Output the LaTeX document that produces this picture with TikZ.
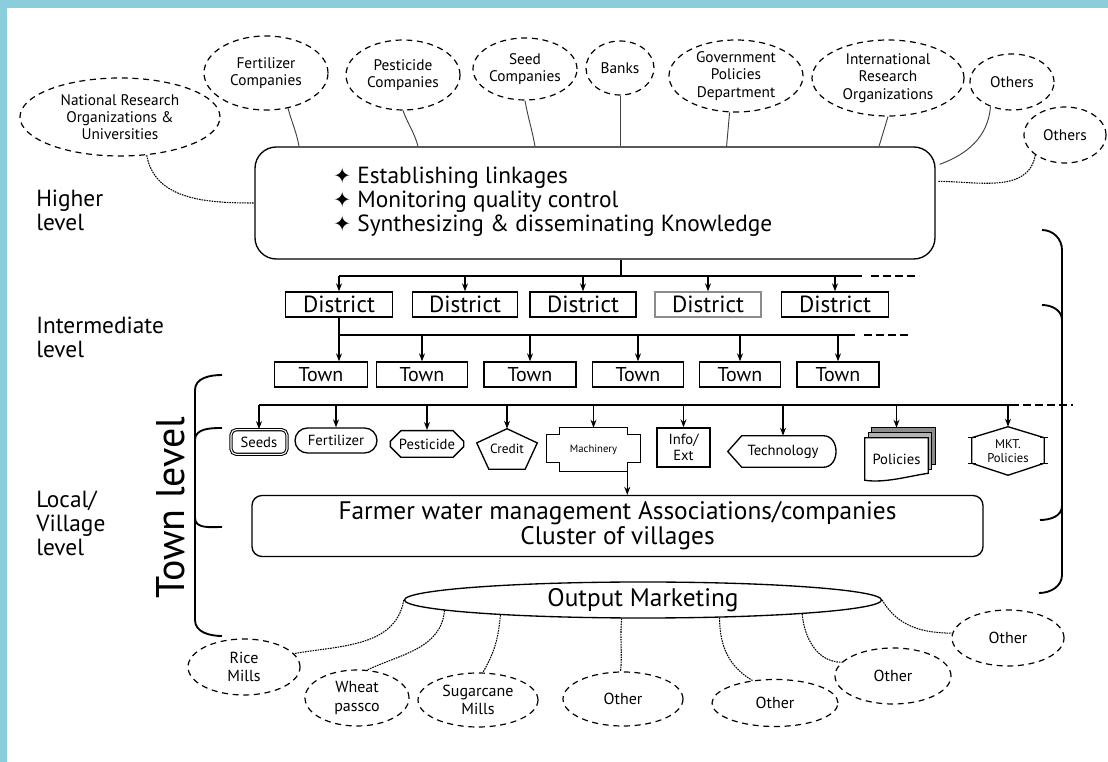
\documentclass[tikz,border=0pt]{standalone}
\usepackage{fontspec}
\setmainfont{PT Sans}
\newfontfamily\symfont{DejaVu Sans}
\usetikzlibrary{shapes.geometric,shapes.misc,arrows.meta,calc}
\definecolor{cyanbg}{RGB}{140,205,220}

\begin{document}
\begin{tikzpicture}[x=0.75pt,y=0.75pt,yscale=-1,xscale=1,
  org/.style={draw,ellipse,dash pattern=on 4.5pt off 3.5pt,line width=0.9pt,align=center,inner sep=0pt,font=\fontsize{11.5}{13}\selectfont},
  lowOrg/.style={org,font=\fontsize{12}{14}\selectfont},
  link/.style={line width=0.7pt,color=black!75},
  dlink/.style={line width=0.8pt,dash pattern=on 1.2pt off 0.7pt},
  unitBox/.style={draw,line width=1pt,minimum height=18.75pt,inner sep=0pt},
  svc/.style={inner sep=0pt,align=center,font=\fontsize{11}{12}\selectfont},
  bus/.style={line width=1pt},
  arr/.style={line width=0.9pt,-{Stealth[length=6pt,width=4.5pt]}},
  brk/.style={line width=1.4pt},
  lvl/.style={anchor=west,align=left,inner sep=0pt,font=\fontsize{17.5}{18}\selectfont}]

%Shape: Background
\fill[cyanbg] (0,0) rectangle (1108,762);
\fill[white] (7,8) rectangle (1108,762);
\useasboundingbox (0,0) rectangle (1108,762);

%Shape: Ellipse (organizations)
\node[org,minimum width=150pt,minimum height=58.5pt] (nat) at (120,117) {National Research\\Organizations \&\\Universities};
\node[org,minimum width=93pt,minimum height=55.5pt] (fert) at (266,73) {Fertilizer\\Companies};
\node[org,minimum width=85.5pt,minimum height=52.5pt] (pest) at (403,75) {Pesticide\\Companies};
\node[org,minimum width=78pt,minimum height=46.5pt] (seed) at (525,69) {Seed\\Companies};
\node[org,minimum width=51pt,minimum height=40.5pt] (banks) at (620,68) {Banks};
\node[org,minimum width=100.5pt,minimum height=54pt] (govt) at (736,76) {Government\\Policies\\Department};
\node[org,minimum width=114pt,minimum height=57pt] (intl) at (888,78) {International\\Research\\Organizations};
\node[org,minimum width=63pt,minimum height=42pt] (oth1) at (1012,82) {Others};
\node[org,minimum width=61.5pt,minimum height=42pt] (oth2) at (1065,135) {Others};

%Shape: Rounded Rect (higher level)
\node[draw,line width=1pt,rounded corners=16pt,minimum width=510pt,minimum height=84pt] (hub) at (595,203) {};
% Text Node
\node[anchor=west,align=left,inner sep=0pt,font=\fontsize{17.5}{18}\selectfont] (bul) at (333,202)
  {{\symfont\fontsize{16}{18}\selectfont ✦}\ Establishing linkages\\
   {\symfont\fontsize{16}{18}\selectfont ✦}\ Monitoring quality control\\
   {\symfont\fontsize{16}{18}\selectfont ✦}\ Synthesizing \& disseminating Knowledge};

%Curve Lines (organizations to hub)
\draw[dlink] (nat.-55) to[out=80,in=180] (hub.west);
\draw[link] (fert.-58) to[out=75,in=-100] ($(fert.-58 |- hub.north)+(11,0)$);
\draw[link] (pest.south) to[out=70,in=-105] ($(pest.south |- hub.north)+(15,0)$);
\draw[link] (seed.south) to[out=80,in=-100] ($(seed.south |- hub.north)+(10,0)$);
\draw[link] (banks.south) -- (banks.south |- hub.north);
\draw[link] (govt.-100) -- ($(govt.-100 |- hub.north)+(-3,0)$);
\draw[link] (intl.south) -- ($(intl.south |- hub.north)+(-9,0)$);
\draw[link] (oth1.-131) to[out=95,in=-20] ($(hub.north east)+(4,18)$);
\draw[dlink] (oth2.214) to[out=100,in=0] ($(hub.north east)+(2,35)$);

% Text Node (levels)
\node[lvl] (lvlHigh) at (36,210) {Higher\\level};
\node[lvl] (lvlMid) at (36,337) {Intermediate\\level};
\node[lvl] (lvlLow) at (36,523) {Local/\\Village\\level};
\node[rotate=90,inner sep=0pt,font=\fontsize{30}{30}\selectfont] (lvlTown) at (171,508) {Town level};

%Shape: Rect (districts)
\node[unitBox,minimum width=80pt,font=\fontsize{17.5}{17}\selectfont] (d1) at (339,304.5) {District};
\node[unitBox,minimum width=79pt,font=\fontsize{17.5}{17}\selectfont] (d2) at (465,304.5) {District};
\node[unitBox,minimum width=79.5pt,font=\fontsize{17.5}{17}\selectfont] (d3) at (583,304.5) {District};
\node[unitBox,draw=black!45,minimum width=79.5pt,font=\fontsize{17.5}{17}\selectfont] (d4) at (708,304.5) {District};
\node[unitBox,minimum width=80pt,font=\fontsize{17.5}{17}\selectfont] (d5) at (835,304.5) {District};

%Straight Lines (district bus)
\coordinate (dbus) at (621,276);
\coordinate (dend) at (862,276);
\draw[bus] (hub.south -| dbus) -- (dbus);
\draw[bus] (dbus -| d1.north) -- (dend);
\draw[bus,dash pattern=on 6pt off 3pt] (871,276) -- (919,276);
\draw[arr] (dbus -| d1.north) -- (d1.north);
\draw[arr] (dbus -| d2.north) -- (d2.north);
\draw[arr] (dbus -| d3.north) -- (d3.north);
\draw[arr] (dbus -| d4.north) -- (d4.north);
\draw[arr] (dbus -| d5.north) -- (d5.north);

%Shape: Rect (towns)
\node[unitBox,minimum width=69.75pt,font=\fontsize{15}{15}\selectfont] (t1) at (321,374.5) {Town};
\node[unitBox,minimum width=68.25pt,font=\fontsize{15}{15}\selectfont] (t2) at (422,374.5) {Town};
\node[unitBox,minimum width=69pt,font=\fontsize{15}{15}\selectfont] (t3) at (530,374.5) {Town};
\node[unitBox,minimum width=68.25pt,font=\fontsize{15}{15}\selectfont] (t4) at (638,374.5) {Town};
\node[unitBox,minimum width=60.75pt,font=\fontsize{15}{15}\selectfont] (t5) at (740,374.5) {Town};
\node[unitBox,minimum width=61.5pt,font=\fontsize{15}{15}\selectfont] (t6) at (838,374.5) {Town};

%Straight Lines (town bus)
\coordinate (tbus) at (334,335);
\coordinate (tend) at (855,335);
\draw[bus] (d1.south |- tbus) -- (tend);
\draw[bus,dash pattern=on 6pt off 3pt] (864,335) -- (908,335);
\draw[arr] (d1.south) -- (d1.south |- t1.north);
\draw[arr] (tbus -| t2.north) -- (t2.north);
\draw[arr] (tbus -| t3.north) -- (t3.north);
\draw[arr] (tbus -| t4.north) -- (t4.north);
\draw[arr] (tbus -| t5.north) -- (t5.north);
\draw[arr] (tbus -| t6.north) -- (t6.north);

%Shape: services at town level
\node[svc,draw,line width=0.8pt,double,double distance=0.8pt,rounded corners=4pt,minimum width=42pt,minimum height=18.5pt] (seeds) at (259,442) {Seeds};
\node[svc,draw,line width=1pt,rounded rectangle,minimum width=61.5pt,minimum height=18.75pt] (fertl) at (336,440.5) {Fertilizer};
\node[svc,draw,line width=1pt,chamfered rectangle,chamfered rectangle xsep=4pt,chamfered rectangle ysep=4pt,minimum width=55pt,minimum height=20pt] (pestc) at (427,444) {Pesticide};
\node[svc,minimum width=45pt,minimum height=30pt,font=\fontsize{10}{11}\selectfont] (credit) at (507,449) {Credit};
\draw[line width=1pt] (credit.north) -- ($(credit.north east)!0.35!(credit.south east)$) -- ($(credit.south east)!0.2!(credit.south west)$) -- ($(credit.south west)!0.2!(credit.south east)$) -- ($(credit.north west)!0.35!(credit.south west)$) -- cycle;
\node[svc,minimum width=69.75pt,minimum height=32.25pt,font=\fontsize{8}{9}\selectfont] (mach) at (593.5,449.5) {Machinery};
\draw[line width=1pt] ($(mach.north west)+(13,0)$) -- ($(mach.north east)+(-13,0)$) -- ($(mach.north east)+(-13,7)$) -- ($(mach.north east)+(0,7)$) -- ($(mach.south east)+(0,-9)$) -- ($(mach.south east)+(-13,-9)$) -- ($(mach.south east)+(-13,0)$) -- ($(mach.south west)+(13,0)$) -- ($(mach.south west)+(13,-9)$) -- ($(mach.south west)+(0,-9)$) -- ($(mach.north west)+(0,7)$) -- ($(mach.north west)+(13,7)$) -- cycle;
\node[svc,draw,line width=1pt,minimum width=39.75pt,minimum height=29.25pt] (info) at (683.5,447.5) {Info/\\Ext};
\node[svc,minimum width=82.5pt,minimum height=23.25pt] (tech) at (783,451.5) {Technology};
\draw[line width=1pt] (tech.west) -- ($(tech.north west)+(14,0)$) -- ($(tech.north east)+(-15,0)$) .. controls ($(tech.north east)+(2,0)$) and ($(tech.south east)+(2,0)$) .. ($(tech.south east)+(-15,0)$) -- ($(tech.south west)+(14,0)$) -- cycle;
\node[svc,minimum width=47.25pt,minimum height=31.5pt] (pol) at (896.5,459) {Policies};
\fill[black!45,draw=black,line width=0.6pt] ($(pol.north west)+(7,-10)$) rectangle ($(pol.south east)+(7,-16)$);
\fill[black!30,draw=black,line width=0.6pt] ($(pol.north west)+(3.5,-5)$) rectangle ($(pol.south east)+(3.5,-11)$);
\filldraw[fill=white,line width=1pt] (pol.north west) -- (pol.north east) -- ($(pol.south east)+(0,-7)$) .. controls ($(pol.south east)+(-20,-4)$) and ($(pol.south west)+(20,3)$) .. (pol.south west) -- cycle;
\node[svc,inner sep=0pt,font=\fontsize{11}{12}\selectfont] (polTxt) at (pol) {Policies};
\node[svc,minimum width=60pt,minimum height=36pt,font=\fontsize{9.5}{10}\selectfont] (mkt) at (1008,451) {MKT.\\Policies};
\draw[line width=1pt] ($(mkt.north west)+(4,11)$) -- (mkt.north) -- ($(mkt.north east)+(-4,11)$) -- ($(mkt.south east)+(-4,-12)$) -- (mkt.south) -- ($(mkt.south west)+(4,-12)$) -- cycle;
\draw[line width=1pt] ($(mkt.north west)+(0,11)$) -- ($(mkt.north west)+(8,11)$);
\draw[line width=1pt] ($(mkt.north east)+(0,11)$) -- ($(mkt.north east)+(-8,11)$);
\draw[line width=1pt] ($(mkt.south west)+(0,-12)$) -- ($(mkt.south west)+(8,-12)$);
\draw[line width=1pt] ($(mkt.south east)+(0,-12)$) -- ($(mkt.south east)+(-8,-12)$);

%Straight Lines (town level bus)
\coordinate (lbus) at (259,405);
\coordinate (lend) at (1011,405);
\draw[bus] (lbus) -- (lend);
\draw[bus,dash pattern=on 6pt off 3pt] (1011,405) -- (1073,405);
\draw[arr] (lbus -| seeds.north) -- (seeds.north);
\draw[arr] (lbus -| fertl.north) -- (fertl.north);
\draw[arr] (lbus -| pestc.north) -- (pestc.north);
\draw[arr] (lbus -| credit.north) -- (credit.north);
\draw[arr] (lbus -| mach.north) -- (mach.north);
\draw[arr] (lbus -| info.north) -- (info.north);
\draw[arr] (lbus -| tech.north) -- (tech.north);
\draw[arr] (lbus -| pol.north) -- ($(pol.north)+(0,-10)$);
\draw[arr] (lbus -| mkt.north) -- (mkt.north);

%Shape: Rounded Rect (farmers)
\node[draw,line width=1pt,rounded corners=7.5pt,minimum width=548.25pt,minimum height=45.75pt,align=center,font=\fontsize{19}{19}\selectfont] (farm) at (617.5,526) {Farmer water management Associations/companies\\Cluster of villages};
\coordinate (machOut) at ($(mach.south east)+(-13,0)$);
\draw[arr] (machOut) -- (machOut |- farm.north);

%Shape: Ellipse (output marketing)
\node[draw,ellipse,line width=1pt,inner sep=0pt,minimum width=357.75pt,minimum height=27pt,font=\fontsize{19}{19}\selectfont] (om) at (643,600) {Output Marketing};

%Shape: Ellipse (buyers)
\node[lowOrg,minimum width=84pt,minimum height=42pt] (rice) at (244,667) {Rice\\Mills};
\node[lowOrg,minimum width=78pt,minimum height=42pt] (wheat) at (357,698) {Wheat\\passco};
\node[lowOrg,minimum width=90pt,minimum height=40.5pt] (sugar) at (478,700) {Sugarcane\\Mills};
\node[lowOrg,minimum width=90pt,minimum height=40.5pt] (ot1) at (623,699) {Other};
\node[lowOrg,minimum width=94.5pt,minimum height=35.25pt] (ot2) at (775,703) {Other};
\node[lowOrg,minimum width=87pt,minimum height=42pt] (ot3) at (893,676) {Other};
\node[lowOrg,minimum width=84pt,minimum height=42pt] (ot4) at (1008,638) {Other};

%Curve Lines (marketing to buyers)
\draw[dlink] (om.west) to[out=100,in=-10] (rice.15);
\draw[dlink] (om.183) to[out=95,in=-25] (wheat.70);
\draw[dlink] (om.186.5) to[out=95,in=-60] (sugar.80);
\draw[dlink] (om.221) to[out=95,in=-85] (ot1.95);
\draw[dlink] (om.-13) to[out=90,in=-150] (ot2.135);
\draw[dlink] (om.-5) to[out=85,in=180] (ot3.165);
\draw[dlink] (om.east) to[out=60,in=180] (ot4.175);

%Shape: Brackets
\draw[brk] (222,375) to[out=180,in=-90] (195,390) -- (195,620) to[out=90,in=180] (222,636);
\draw[brk] (195,440) to[out=-90,in=180] (222,428);
\draw[brk] (195,518) to[out=90,in=180] (222,527);
\draw[brk] (1042,230) to[out=0,in=-90] (1062,250) -- (1062,575) to[out=90,in=0] (1039,593);
\draw[brk] (1042,305) to[out=0,in=-90] (1062,320);
\draw[brk] (1040,520) to[out=0,in=90] (1062,506);

\end{tikzpicture}
\end{document}
